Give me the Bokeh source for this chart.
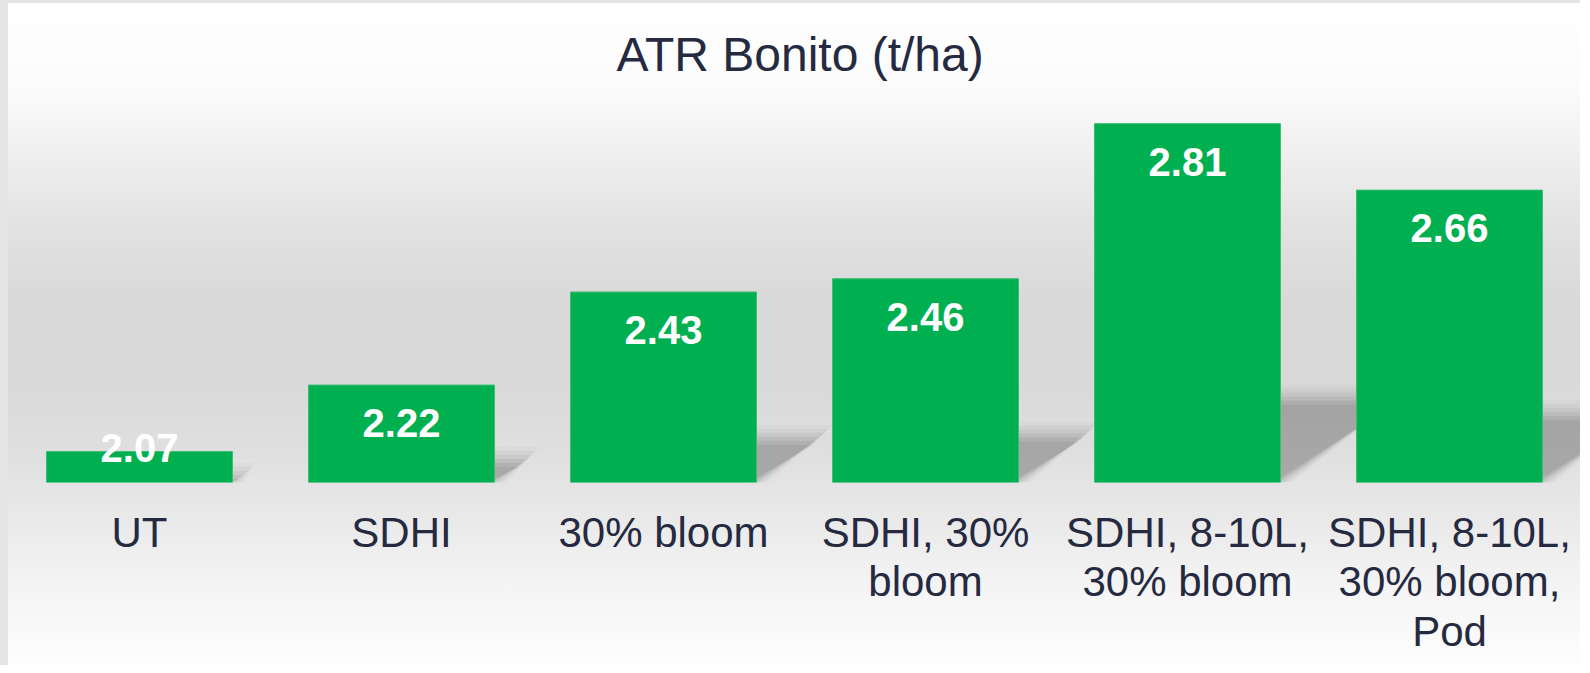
import numpy as np
from bokeh.plotting import figure
from bokeh.models import Range1d, FixedTicker, ColumnDataSource
from bokeh.core.properties import value
from bokeh.embed import file_html
from bokeh.resources import INLINE

# ---- data ----
categories = ["UT", "SDHI", "30% bloom", "SDHI, 30%\nbloom",
              "SDHI, 8-10L,\n30% bloom", "SDHI, 8-10L,\n30% bloom,\nPod"]
yields = [2.07, 2.22, 2.43, 2.46, 2.81, 2.66]
value_labels = ["2.07", "2.22", "2.43", "2.46", "2.81", "2.66"]
title_text = "ATR Bonito (t/ha)"

BASE = 2.0
BAR_W = 0.71
GREEN = "#00B050"
TEXT = "#252A41"

xs = np.arange(len(categories), dtype=float)
vals = np.array(yields)

p = figure(frame_width=1572, frame_height=374,
           x_range=Range1d(-0.5, len(categories) - 0.5),
           y_range=Range1d(BASE, 2.8442),
           output_backend="svg", toolbar_location=None,
           min_border_left=8, min_border_right=0,
           min_border_top=108, min_border_bottom=183)

p.background_fill_color = None
p.border_fill_color = None
p.outline_line_color = None
p.styles = {"background":
            "linear-gradient(to right, #e4e4e4 0px, #e4e4e4 8px, rgba(0,0,0,0) 8px), "
            "linear-gradient(to bottom, #e4e4e4 0px, #e4e4e4 3px, #ffffff 3px, #fbfbfb 13.5%, "
            "#f0f0f0 22.6%, #e3e3e3 33.1%, #d9d9d9 45.1%, #d9d9d9 57.1%, "
            "#dfdfdf 67.7%, #ebebeb 79.7%, #f6f6f6 90.2%, #fdfdfd 100%)"}
p.grid.visible = False
p.yaxis.visible = False

# ---- perspective shadows behind bars (derived from the bar values) ----
h = vals - BASE
s_data = 0.24 * h               # shadow height
d_data = 0.575 * h              # shadow horizontal skew
for e_px, a in [(12, 0.02), (8, 0.035), (4, 0.045), (0, 0.055), (-4, 0.065), (-8, 0.055)]:
    ex = e_px / 262.0
    ey = e_px / 443.0
    sx, sy = [], []
    for i in range(len(xs)):
        xl = xs[i] - BAR_W / 2
        xr = xs[i] + BAR_W / 2
        top = BASE + max(s_data[i] + ey, 0.0)
        sx.append([xl, xr + ex, xr + d_data[i] + ex, xl + d_data[i]])
        sy.append([BASE, BASE, top, top])
    p.patches(sx, sy, fill_color="black", fill_alpha=a, line_color=None)

# ---- bars ----
src = ColumnDataSource(dict(x=xs, top=vals, lab=value_labels,
                            ly=np.maximum(vals - 0.086, BASE + 0.079)))
p.vbar(x="x", top="top", bottom=BASE, width=BAR_W, source=src,
       fill_color=GREEN, line_color="#3DBE74", line_width=1)

p.text(x="x", y="ly", text="lab", source=src,
       text_font=value("Liberation Sans"), text_font_style="bold",
       text_font_size="40px", text_color="white",
       text_align="center", text_baseline="alphabetic")

# ---- axis ----
ax = p.xaxis[0]
ax.ticker = FixedTicker(ticks=list(range(len(categories))))
ax.major_label_overrides = {i: c for i, c in enumerate(categories)}
ax.axis_line_color = None
ax.major_tick_line_color = None
ax.minor_tick_line_color = None
ax.major_label_text_font = "Liberation Sans"
ax.major_label_text_font_size = "42px"
ax.major_label_text_color = TEXT
ax.major_label_text_line_height = 1.06
ax.major_label_standoff = 20

# ---- title ----
p.title.text = title_text
p.title.align = "left"
p.title.offset = 608
p.title.vertical_align = "top"
p.title.text_font = "Liberation Sans"
p.title.text_font_size = "48px"
p.title.text_font_style = "normal"
p.title.text_color = TEXT
p.title.standoff = 52

open("out.html", "w").write(file_html(p, INLINE))
